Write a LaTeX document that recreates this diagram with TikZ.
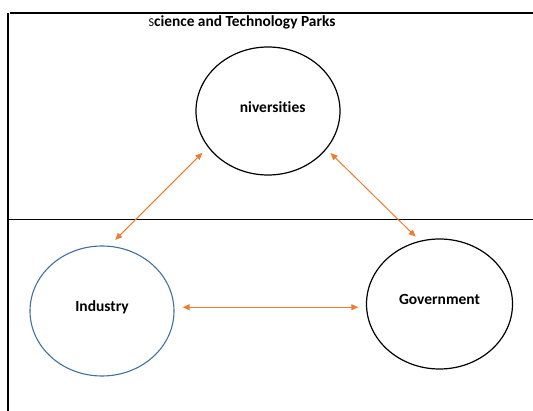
\documentclass[tikz,border=0pt]{standalone}
\usepackage{fontspec}
\setmainfont{Carlito}[Ligatures={NoCommon}]
\usetikzlibrary{shapes.geometric,arrows.meta}

\definecolor{linkorange}{HTML}{ED7D31}
\definecolor{ringblue}{HTML}{41719C}

\tikzset{
  frameline/.style={line width=2pt, black},
  ring/.style={ellipse, draw=black, line width=1.2pt, inner sep=0pt, outer sep=0pt},
  ringtext/.style={font=\bfseries\fontsize{15.5}{18}\selectfont, inner sep=0pt},
  link/.style={draw=linkorange, line width=1pt,
    {Triangle[length=7pt,width=6pt]}-{Triangle[length=7pt,width=6pt]}},
}

\begin{document}
\begin{tikzpicture}[x=1pt, y=-1pt]
  \useasboundingbox (0,0) rectangle (533,411);

  % page frame and the band divider
  \coordinate (frameTL) at (10,12.7);
  \coordinate (frameTR) at (533,12.7);
  \coordinate (leftTop) at (8,13.5);
  \coordinate (leftBot) at (8,411);
  \coordinate (midL) at (8,219.3);
  \coordinate (midR) at (533,219.3);
  \draw[frameline] (frameTL) -- (frameTR);
  \draw[frameline] (leftTop) -- (leftBot);
  \draw[line width=1.3pt] (midL) -- (midR);

  % heading
  \node[anchor=base, inner sep=0pt, font=\bfseries\fontsize{15.4}{18}\selectfont] (title) at (242,26.8)
    {{\mdseries\fontsize{12}{14}\selectfont S}cience and Technology Parks};

  % the three actors
  \node[ring, minimum width=144pt, minimum height=128pt] (univ) at (268,111) {};
  \node[ring, draw=ringblue, line width=1.1pt, minimum width=144pt, minimum height=130pt] (ind) at (102,311) {};
  \node[ring, minimum width=146pt, minimum height=130pt] (gov) at (439.5,304) {};

  \node[ringtext] (univlabel) at ([shift={(4.7,-4.3)}]univ.center) {niversities};
  \node[ringtext] (indlabel) at ([shift={(0,-4)}]ind.center) {Industry};
  \node[ringtext] (govlabel) at ([shift={(0,-5)}]gov.center) {Government};

  % two-way links
  \draw[link, shorten <=8.5pt, shorten >=9pt] (univ.211.5) -- (ind.84.2);
  \draw[link, shorten <=6.2pt, shorten >=6.6pt] (univ.327) -- (gov.107.5);
  \draw[link, shorten <=8.8pt, shorten >=8.2pt] (ind.3) -- (ind.3 -| gov.west);
\end{tikzpicture}
\end{document}
